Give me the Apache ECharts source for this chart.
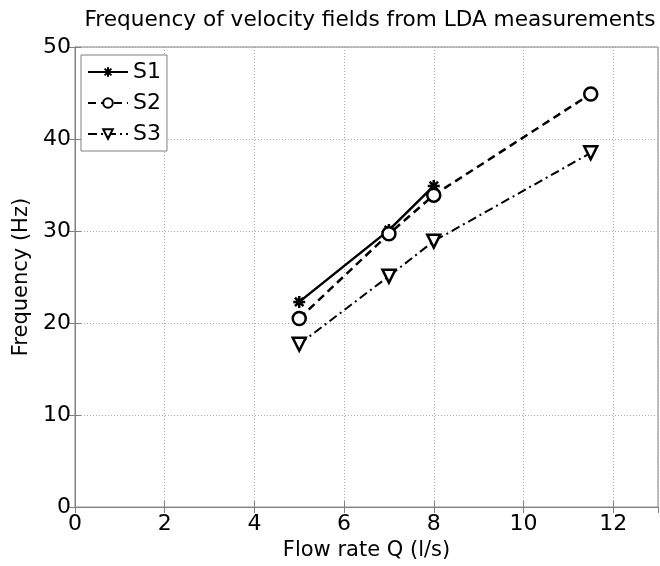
<!DOCTYPE html>
<html>
<head>
<meta charset="utf-8">
<script src="https://cdn.jsdelivr.net/npm/echarts@6/dist/echarts.min.js"></script>
<style>
html,body{margin:0;padding:0;background:#fff;}
#c{width:660px;height:566px;}
</style>
</head>
<body>
<div id="c"></div>
<script>
var titleText = 'Frequency of velocity fields from LDA measurements';
var xName = 'Flow rate Q (l/s)';
var yName = 'Frequency (Hz)';
var seriesNames = ['S1', 'S2', 'S3'];
var xS1 = [5, 7, 8];
var yS1 = [22.3, 30.1, 34.9];
var xS2 = [5, 7, 8, 11.5];
var yS2 = [20.5, 29.7, 33.9, 44.9];
var xS3 = [5, 7, 8, 11.5];
var yS3 = [17.7, 25.1, 28.9, 38.5];

function pairs(xs, ys){ return xs.map(function(x,i){ return [x, ys[i]]; }); }

var FONT = '"DejaVu Sans", "Liberation Sans", Arial, sans-serif';
var AXC = '#808080';
var chart = echarts.init(document.getElementById('c'), null, {renderer:'canvas'});
var asterisk = 'path://M0,-10L0,10M-10,0L10,0M-7.07,-7.07L7.07,7.07M-7.07,7.07L7.07,-7.07';

chart.setOption({
  animation:false,
  backgroundColor:'#fff',
  title:{text:titleText,left:365,top:4,textAlign:'center',
    textStyle:{fontFamily:FONT,fontSize:21.6,fontWeight:'normal',color:'#000'}},
  grid:{left:75,right:2,top:47,bottom:56,show:true,borderColor:AXC,borderWidth:1,backgroundColor:'transparent'},
  legend:{
    orient:'vertical',left:81,top:55,
    data:seriesNames,
    itemWidth:40,itemHeight:12,itemGap:9,
    padding:[6,6,6,6],
    borderColor:AXC,borderWidth:1,backgroundColor:'#fff',
    textStyle:{fontFamily:FONT,fontSize:22,color:'#000'}
  },
  xAxis:[{
    type:'value',min:0,max:13,interval:2,
    name:xName,nameLocation:'middle',nameGap:32,
    nameTextStyle:{fontFamily:FONT,fontSize:21,color:'#000'},
    axisLine:{show:true,lineStyle:{color:AXC,width:1}},
    axisTick:{show:true,inside:true,length:6,lineStyle:{color:AXC}},
    axisLabel:{fontFamily:FONT,fontSize:22,color:'#000',margin:6,
      showMaxLabel:false},
    splitLine:{show:true,lineStyle:{color:'#aaa',type:[1,2],width:1}}
  },{
    type:'value',min:0,max:13,interval:2,position:'top',
    axisLine:{show:true,lineStyle:{color:AXC,width:1}},
    axisTick:{show:true,inside:true,length:6,lineStyle:{color:AXC}},
    axisLabel:{show:false},splitLine:{show:false}
  }],
  yAxis:[{
    type:'value',min:0,max:50,interval:10,
    name:yName,nameLocation:'middle',nameGap:37,
    nameTextStyle:{fontFamily:FONT,fontSize:21,color:'#000'},
    axisLine:{show:true,lineStyle:{color:AXC,width:1}},
    axisTick:{show:true,inside:true,length:6,lineStyle:{color:AXC}},
    axisLabel:{fontFamily:FONT,fontSize:22,color:'#000',margin:4},
    splitLine:{show:true,lineStyle:{color:'#aaa',type:[1,2],width:1}}
  },{
    type:'value',min:0,max:50,interval:10,position:'right',
    axisLine:{show:true,lineStyle:{color:AXC,width:1}},
    axisTick:{show:true,inside:true,length:6,lineStyle:{color:AXC}},
    axisLabel:{show:false},splitLine:{show:false}
  }],
  series:[{
    name:seriesNames[0],type:'line',data:pairs(xS1,yS1),
    symbol:asterisk,symbolSize:12,
    lineStyle:{color:'#000',width:2.5,type:'solid'},
    itemStyle:{color:'transparent',borderColor:'#000',borderWidth:2.5}
  },{
    name:seriesNames[1],type:'line',data:pairs(xS2,yS2),
    symbol:'circle',symbolSize:13,
    lineStyle:{color:'#000',width:2.5,type:[8,5]},
    itemStyle:{color:'#fff',borderColor:'#000',borderWidth:2.5}
  },{
    name:seriesNames[2],type:'line',data:pairs(xS3,yS3),
    symbol:'triangle',symbolRotate:180,symbolSize:13,
    lineStyle:{color:'#000',width:2,type:[9,4,2,4]},
    itemStyle:{color:'#fff',borderColor:'#000',borderWidth:2.5}
  }]
});
</script>
</body>
</html>
